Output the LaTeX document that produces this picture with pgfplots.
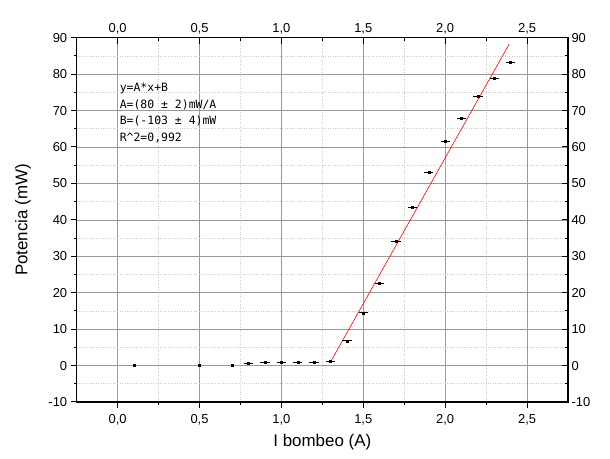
\documentclass[border=0pt]{standalone}
\usepackage{fontspec}
\setmainfont{Liberation Sans}
\newfontfamily\anfont{DejaVu Sans Mono}
\usepackage{pgfplots}
\usepackage{pgfplotstable}
\pgfplotsset{compat=1.18}

\pgfplotstableread{
x    y     ex
0.1  0.1   0
0.5  0.0   0
0.7  0.1   0
0.8  0.6   0.02
0.9  0.8   0.02
1.0  0.9   0.02
1.1  0.9   0.02
1.2  1.0   0.02
1.3  1.1   0.02
1.4  6.8   0.02
1.5  14.5  0.02
1.6  22.7  0.02
1.7  34.2  0.02
1.8  43.5  0.02
1.9  53.1  0.02
2.0  61.6  0.02
2.1  67.9  0.02
2.2  74.0  0.02
2.3  78.9  0.02
2.4  83.3  0.02
}\datatable

\pgfplotsset{
  base/.style={
    width=491.3bp, height=364.3bp, scale only axis,
    at={(0,0)}, anchor=south west,
    xmin=-0.25, xmax=2.75, ymin=-10, ymax=90,
    xtick={0,0.5,1,1.5,2,2.5}, minor x tick num=1,
    xticklabels={{0,0},{0,5},{1,0},{1,5},{2,0},{2,5}},
    ytick={-10,0,10,20,30,40,50,60,70,80,90}, minor y tick num=1,
    major tick length=6bp, minor tick length=3bp,
    tick style={black, line width=1pt},
    axis line style={black, line width=1.3pt},
    /pgf/number format/assume math mode=true,
    tick label style={font=\fontsize{13}{15}\selectfont},
  }
}

\begin{document}
\begin{tikzpicture}[x=1bp,y=1bp]
\path[use as bounding box] (-76.7,-57) rectangle (533.3,402);
\begin{axis}[base,
  xtick pos=bottom, ytick pos=left, tick align=outside,
  xticklabel shift=3bp,
  grid=both,
  major grid style={draw=black!40, line width=0.6pt},
  minor grid style={draw=black!20, dotted, line width=0.6pt},
  xlabel={I bombeo (A)}, ylabel={Potencia (mW)},
  every axis x label/.style={at={(axis description cs:0.5,0)}, yshift=-39.7bp, anchor=center, font=\fontsize{17}{20}\selectfont},
  every axis y label/.style={at={(axis description cs:0,0.5)}, xshift=-53.7bp, rotate=90, anchor=center, font=\fontsize{17}{20}\selectfont},
]
\addplot[red, line width=0.6pt] coordinates {(1.3,1.0) (2.39,88.2)};
\addplot[only marks, mark=square*, mark size=1bp, black,
  error bars/.cd, x dir=both, x explicit,
  error bar style={line width=0.6pt},
  error mark options={mark size=1.4bp, line width=0.6pt}]
  table[x=x, y=y, x error=ex] {\datatable};
\node[anchor=north west, align=left, inner sep=0pt,
  font=\anfont\fontsize{11.5}{16.7}\selectfont] at (axis cs:0.012,77.6)
  {y=A*x+B\\A=(80 ± 2)mW/A\\B=(-103 ± 4)mW\\R\textasciicircum 2=0,992};
\end{axis}
\begin{axis}[base,
  xtick pos=top, ytick pos=right, xticklabel pos=top, yticklabel pos=right,
  tick align=inside,
]
\end{axis}
\end{tikzpicture}
\end{document}
